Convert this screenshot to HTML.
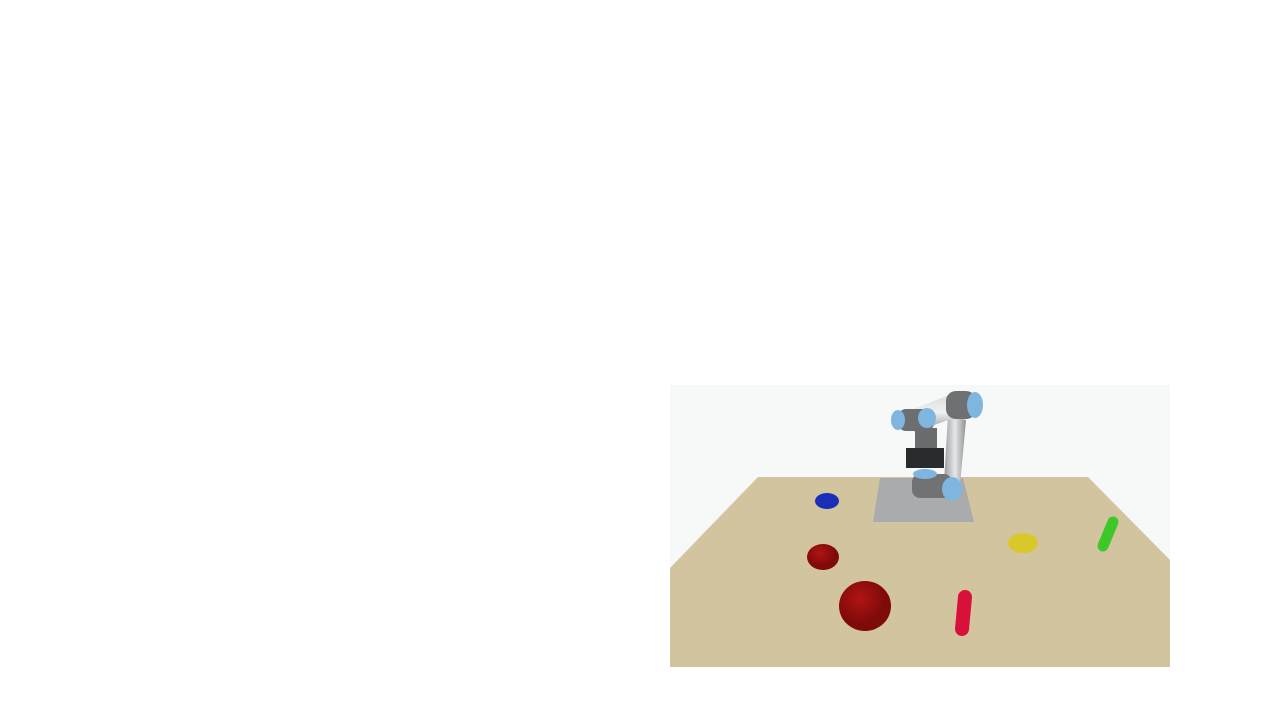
<!DOCTYPE html>
<html><head><meta charset="utf-8"><style>
html,body{margin:0;padding:0;background:#fff;width:1280px;height:720px;overflow:hidden}
svg{position:absolute;left:0;top:0}
</style></head><body>
<svg width="1280" height="720" viewBox="0 0 1280 720">
<defs>
<linearGradient id="rod" x1="0" x2="1"><stop offset="0" stop-color="#9a9c9e"/><stop offset="0.5" stop-color="#e6e7e8"/><stop offset="1" stop-color="#8e9092"/></linearGradient>
<linearGradient id="rod2" x1="0" y1="0" x2="0" y2="1"><stop offset="0" stop-color="#d8d9da"/><stop offset="0.5" stop-color="#f0f1f2"/><stop offset="1" stop-color="#909294"/></linearGradient>
<radialGradient id="red" cx="0.4" cy="0.35"><stop offset="0" stop-color="#b01414"/><stop offset="1" stop-color="#7e0a0a"/></radialGradient>
</defs>
<rect x="670" y="385" width="500" height="282" fill="#f7f9f8"/>
<polygon points="670,568 758,477 1088,477 1170,560 1170,667 670,667" fill="#d2c49e"/>
<polygon points="880,478 963,478 974,522 873,522" fill="#a9abad"/>
<g>
<polygon points="948,415 966,420 960,485 944,482" fill="url(#rod)"/>
<polygon points="905,412 955,393 962,415 915,432" fill="url(#rod2)"/>
<rect x="912" y="474" width="40" height="24" rx="8" fill="#707274"/>
<ellipse cx="952" cy="489" rx="10" ry="12" fill="#7fb6e0"/>
<ellipse cx="925" cy="474" rx="12" ry="5" fill="#7fb6e0"/>
<rect x="946" y="391" width="30" height="28" rx="10" fill="#6e7072"/>
<ellipse cx="975" cy="405" rx="8" ry="13" fill="#7fb6e0"/>
<rect x="898" y="409" width="36" height="22" rx="8" fill="#6c6e70"/>
<ellipse cx="898" cy="420" rx="7" ry="10" fill="#7fb6e0"/>
<ellipse cx="927" cy="418" rx="9" ry="10" fill="#7fb6e0"/>
<rect x="915" y="428" width="22" height="22" fill="#6a6c6e"/>
<rect x="906" y="448" width="38" height="20" fill="#2a2b2d"/>
</g>
<ellipse cx="827" cy="501" rx="12" ry="8" fill="#1a2fb8"/>
<ellipse cx="823" cy="557" rx="16" ry="13" fill="url(#red)"/>
<ellipse cx="865" cy="606" rx="26" ry="25" fill="url(#red)"/>
<ellipse cx="1023" cy="543" rx="15" ry="10" fill="#d8c82a"/>
<line x1="1103" y1="546" x2="1113" y2="522" stroke="#3cc828" stroke-width="11" stroke-linecap="round"/>
<line x1="962" y1="629" x2="965" y2="597" stroke="#d8103a" stroke-width="14" stroke-linecap="round"/>
</svg>
</body></html>
